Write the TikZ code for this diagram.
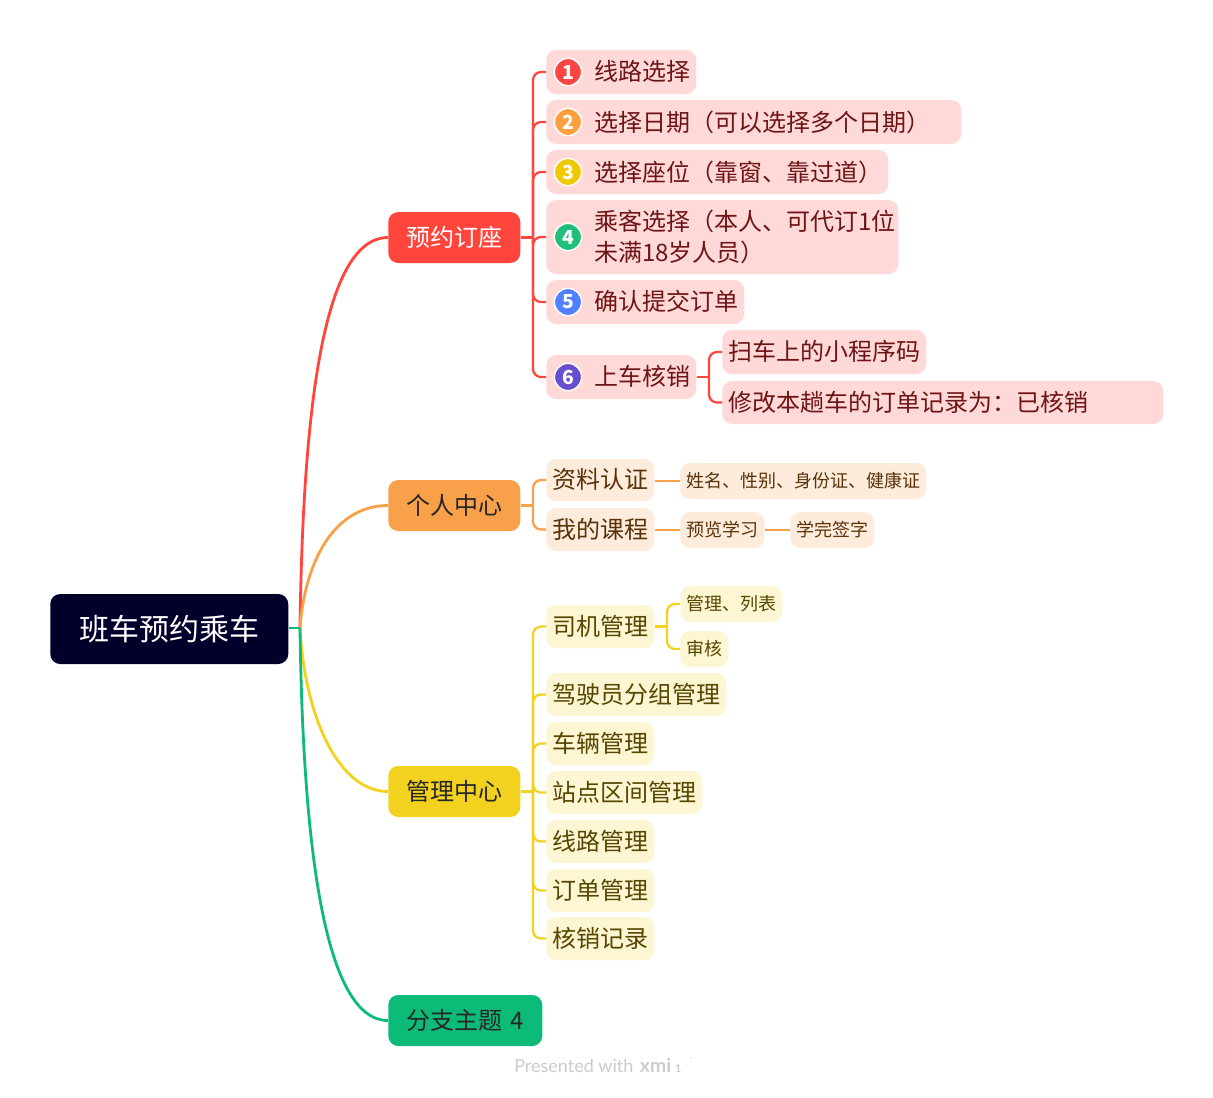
\documentclass[tikz,border=0pt]{standalone}
\usepackage{fontspec}
\setmainfont{Noto Sans CJK SC}
\newfontfamily\wmfont{Lato}
\definecolor{rootc}{HTML}{02002B}
\definecolor{redc}{HTML}{FF453C}
\definecolor{orac}{HTML}{F9A04A}
\definecolor{yelc}{HTML}{F2D21E}
\definecolor{grnc}{HTML}{0DBB78}
\definecolor{redl}{HTML}{FFD8D8}
\definecolor{oral}{HTML}{FDEBDC}
\definecolor{yell}{HTML}{FCF6D3}
\definecolor{redt}{HTML}{6E1414}
\definecolor{orat}{HTML}{5A3208}
\definecolor{yelt}{HTML}{574600}
\definecolor{ba}{HTML}{FF4444}
\definecolor{bb}{HTML}{FFA040}
\definecolor{bc}{HTML}{F0C800}
\definecolor{bd}{HTML}{20C07A}
\definecolor{be}{HTML}{5080FF}
\definecolor{bf}{HTML}{6A4FCC}
\newcommand\stt{\rule[-.10em]{0pt}{.94em}}
\newcommand\fsz[2]{\fontsize{#1}{#2}\selectfont}
% \bx{style}{name}{x1}{x2}{cy}{h}{lead}{text}
\newcommand\bx[8]{%
  \pgfmathsetlengthmacro\tw{(#4-#3)*0.75pt}%
  \node[#1,text width=\tw,minimum height=#6*0.75pt] (#2) at (#3,#5) {\hspace*{#7\dimexpr0.75pt\relax}\stt #8};%
}
\newcommand\badge[4]{\node[badgec,fill=#2] (#1) at (568,#3) {#4};}
\tikzset{
  x=0.75pt,y=-0.75pt,
  mm/.style={anchor=west,inner xsep=0pt,inner ysep=0pt,align=left,rounded corners=7.5pt},
  rootn/.style={mm,fill=rootc,text=white,font=\fsz{22.5pt}{27pt},rounded corners=7.5pt},
  br/.style={mm,font=\fsz{18pt}{23pt}},
  rd/.style={mm,fill=redl,text=redt,font=\fsz{18pt}{23.25pt}},
  org/.style={mm,fill=oral,text=orat,font=\fsz{18pt}{23pt}},
  orgs/.style={mm,fill=oral,text=orat,font=\fsz{13.5pt}{17pt}},
  yl/.style={mm,fill=yell,text=yelt,font=\fsz{18pt}{23pt}},
  yls/.style={mm,fill=yell,text=yelt,font=\fsz{13.5pt}{17pt}},
  badgec/.style={circle,draw=white,line width=1.1pt,minimum size=20.5pt,inner sep=0pt,text=white,font=\fsz{14.5pt}{16pt}\bfseries},
  lnk/.style={line width=1.7pt,rounded corners=6pt},
  mainl/.style={line width=2.1pt},
}
\begin{document}
\begin{tikzpicture}
\useasboundingbox (0,0) rectangle (1213,1097);
\fill[white] (0,0) rectangle (1213,1097);
% root and branches
\bx{rootn}{root}{50}{288}{629}{70}{29}{班车预约乘车}
\bx{br,fill=redc,text=white}{b1}{388}{520}{237.5}{51}{17.8}{预约订座}
\bx{br,fill=orac,text=black!85}{b2}{388}{520}{505.5}{51}{17.8}{个人中心}
\bx{br,fill=yelc,text=black!85}{b3}{388}{520}{791.5}{51}{17.8}{管理中心}
\bx{br,fill=grnc,text=black!85}{b4}{388}{542}{1020.5}{51}{17.8}{分支主题 4}
% level 2 red
\bx{rd}{a1}{546}{696}{72}{44}{47.8}{线路选择}
\bx{rd}{a2}{546}{961}{122}{44}{47.8}{选择日期（可以选择多个日期）}
\bx{rd}{a3}{546}{888}{172}{44}{47.8}{选择座位（靠窗、靠过道）}
\bx{rd}{a4}{546}{898}{237}{74}{47.8}{乘客选择（本人、可代订1位\\\hspace*{35.85pt}\stt 未满18岁人员）}
\bx{rd}{a5}{546}{744}{302}{44}{47.8}{确认提交订单}
\bx{rd}{a6}{546}{696}{377}{44}{47.8}{上车核销}
\bx{rd}{a61}{722}{926}{352}{44}{5.8}{扫车上的小程序码}
\bx{rd}{a62}{722}{1163}{402.5}{43}{5.8}{修改本趟车的订单记录为：已核销}
\badge{n1}{ba}{72}{1}
\badge{n2}{bb}{122}{2}
\badge{n3}{bc}{172}{3}
\badge{n4}{bd}{237}{4}
\badge{n5}{be}{302}{5}
\badge{n6}{bf}{377}{6}
% orange
\bx{org}{c1}{546}{654}{480}{42}{5.8}{资料认证}
\bx{org}{c2}{546}{654}{529.5}{43}{5.8}{我的课程}
\bx{orgs}{c11}{680}{926}{481}{36}{5.8}{姓名、性别、身份证、健康证}
\bx{orgs}{c21}{680}{764}{530}{36}{5.8}{预览学习}
\bx{orgs}{c22}{790}{874}{530}{36}{5.8}{学完签字}
% yellow
\bx{yl}{d1}{546}{654}{626.5}{43}{5.8}{司机管理}
\bx{yls}{d11}{680}{782}{604}{36}{5.8}{管理、列表}
\bx{yls}{d12}{680}{728}{649}{36}{5.8}{审核}
\bx{yl}{d2}{546}{726}{694.5}{43}{5.8}{驾驶员分组管理}
\bx{yl}{d3}{546}{654}{743.5}{43}{5.8}{车辆管理}
\bx{yl}{d4}{546}{702}{792.5}{43}{5.8}{站点区间管理}
\bx{yl}{d5}{546}{654}{841.5}{43}{5.8}{线路管理}
\bx{yl}{d6}{546}{654}{890.5}{43}{5.8}{订单管理}
\bx{yl}{d7}{546}{654}{938.5}{43}{5.8}{核销记录}
% hubs
\coordinate (hub) at (300,628);
\coordinate (h1) at (533,237.5);
\coordinate (h2) at (533,505.5);
\coordinate (h3) at (533,791.5);
\coordinate (h6) at (709,377);
\coordinate (hd) at (667,626.5);
% root connectors
\draw[mainl,redc] (hub) .. controls (303,400) and (325,237.5) .. (b1.west);
\draw[mainl,orac] (hub) .. controls (305,560) and (335,505.5) .. (b2.west);
\draw[mainl,yelc] (hub) .. controls (305,720) and (340,791.5) .. (b3.west);
\draw[mainl,grnc] (hub) .. controls (303,850) and (325,1020.5) .. (b4.west);
\draw[mainl,grnc] (root.east |- hub) -- (hub);
% red connectors
\draw[lnk,redc] (b1.east) -- (h1);
\foreach \t in {a1,a2,a3,a4,a5,a6}{\draw[lnk,redc] (h1) -- (h1 |- \t.west) -- (\t.west);}
\draw[lnk,redc] (a6.east) -- (h6);
\foreach \t in {a61,a62}{\draw[lnk,redc] (h6) -- (h6 |- \t.west) -- (\t.west);}
% orange connectors
\draw[lnk,orac] (b2.east) -- (h2);
\foreach \t in {c1,c2}{\draw[lnk,orac] (h2) -- (h2 |- \t.west) -- (\t.west);}
\draw[lnk,orac] (c1.east |- c11.west) -- (c11.west);
\draw[lnk,orac] (c2.east |- c21.west) -- (c21.west);
\draw[lnk,orac] (c21.east) -- (c22.west);
% yellow connectors
\draw[lnk,yelc] (b3.east) -- (h3);
\foreach \t in {d1,d2,d3,d4,d5,d6,d7}{\draw[lnk,yelc] (h3) -- (h3 |- \t.west) -- (\t.west);}
\draw[lnk,yelc] (d1.east) -- (hd);
\foreach \t in {d11,d12}{\draw[lnk,yelc] (hd) -- (hd |- \t.west) -- (\t.west);}
% watermark
\node[anchor=west,inner sep=0pt,text=black!20,font=\wmfont\fsz{13.5pt}{16pt}] (wm) at (514,1065) {Presented with\hspace{1.5pt} {\fsz{14.5pt}{16pt}\textbf{xmi}}\hspace{3pt}{\fsz{8pt}{10pt}\textbf{1}\hspace{6pt}\raisebox{5pt}{`}}};
\end{tikzpicture}
\end{document}
